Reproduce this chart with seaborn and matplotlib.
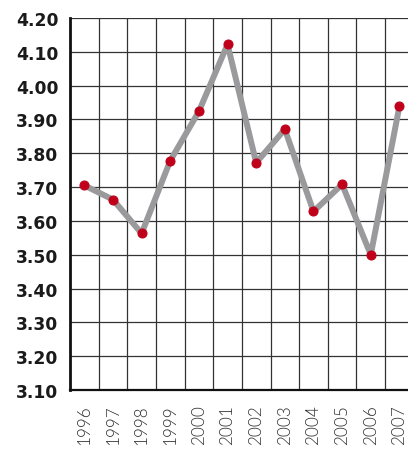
import matplotlib
matplotlib.use("Agg")
import matplotlib.pyplot as plt
import seaborn as sns
import pandas as pd

years = [1996, 1997, 1998, 1999, 2000, 2001, 2002, 2003, 2004, 2005, 2006, 2007]
values = [3.705, 3.663, 3.563, 3.778, 3.924, 4.122, 3.772, 3.871, 3.628, 3.708, 3.50, 3.939]
yticks = [3.10, 3.20, 3.30, 3.40, 3.50, 3.60, 3.70, 3.80, 3.90, 4.00, 4.10, 4.20]

df = pd.DataFrame({"year": years, "value": values})

sns.set_style("white")
plt.rcParams["font.family"] = ["Lato", "DejaVu Sans"]

fig = plt.figure(figsize=(4.08, 4.52), dpi=100)
ax = fig.add_axes([70 / 408, 61 / 452, 338 / 408, 372 / 452])

sns.lineplot(data=df, x="year", y="value", ax=ax, color="#9a9a9c", linewidth=4.3,
             marker="o", markersize=6.5, markerfacecolor="#c0001a",
             markeredgecolor="#c0001a", zorder=3)

ax.set_xlim(1995.5, 2007.3)
ax.set_ylim(3.10, 4.20)
ax.set_yticks(yticks)
ax.set_yticklabels([f"{v:.2f}" for v in yticks], family=["DejaVu Sans"], fontweight="bold",
                   fontsize=12.3, color="#1a1a1a")
ax.set_xticks(years)
ax.set_xticklabels([str(y) for y in years], rotation=90, fontweight=300, fontsize=12.3,
                   color="#333333")

# grid: horizontal at ticks, vertical between years
for v in yticks:
    ax.axhline(v, color="#333333", linewidth=0.9, zorder=1)
for y in years[:-1]:
    ax.axvline(y + 0.5, color="#333333", linewidth=0.9, zorder=1)

ax.tick_params(axis="both", length=0)
ax.tick_params(axis="y", pad=8.5)
ax.tick_params(axis="x", pad=10)
ax.set_xlabel("")
ax.set_ylabel("")

for s in ["top", "right"]:
    ax.spines[s].set_visible(False)
ax.spines["left"].set_linewidth(2.0)
ax.spines["left"].set_color("#111111")
ax.spines["bottom"].set_linewidth(1.6)
ax.spines["bottom"].set_color("#111111")

fig.savefig("out.png", dpi=100)
